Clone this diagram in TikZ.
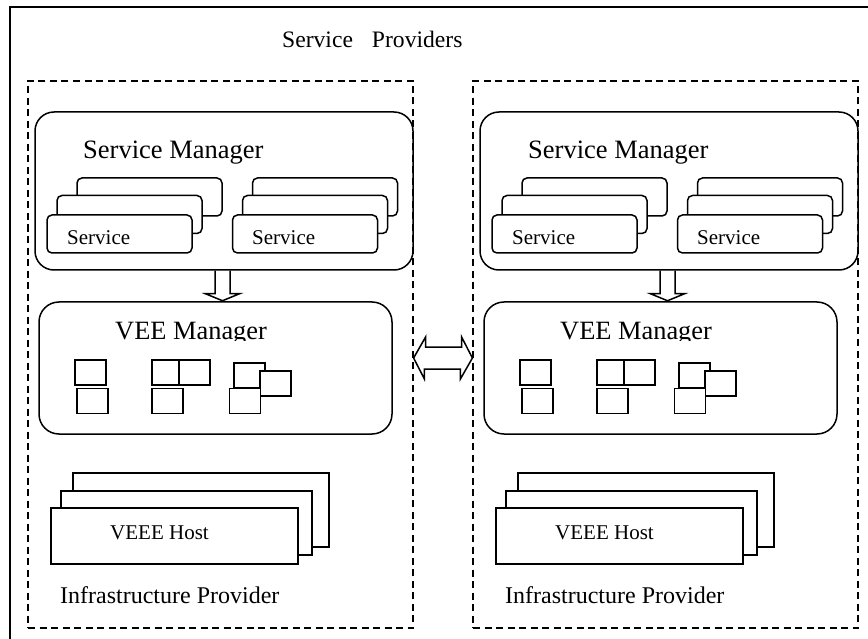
\documentclass[tikz,border=0pt]{standalone}
\usepackage{fontspec}
\setmainfont{Liberation Serif}
\usetikzlibrary{calc}
\tikzstyle{provider}=[draw,dash pattern=on 7pt off 4.5pt,line width=1.2pt,inner sep=0pt]
\tikzstyle{manager}=[draw,line width=1.5pt,rounded corners=19pt,inner sep=0pt]
\tikzstyle{svc}=[draw,fill=white,line width=1.5pt,rounded corners=5pt,minimum width=145pt,minimum height=38pt,inner sep=0pt]
\tikzstyle{vee}=[draw,fill=white,line width=1.5pt,minimum width=31pt,minimum height=25pt,inner sep=0pt]
\tikzstyle{host}=[draw,fill=white,line width=1.5pt,inner sep=0pt]
\tikzstyle{hollow}=[line width=1.5pt,line join=miter]
\tikzstyle{lbl}=[anchor=base west,inner sep=0pt]

\begin{document}
\begin{tikzpicture}[x=1pt,y=-1pt]
\useasboundingbox (0,0) rectangle (868,639);
\draw[line width=1.3pt] (10,7) rectangle (880,650);
\node[lbl,font=\fontsize{23.6}{26}\selectfont] (title) at (282,48) {Service\hspace{19pt}Providers};

% one provider on each side
\foreach \s/\dx in {L/0,R/445}{
\begin{scope}[xshift=\dx]
\node[provider,minimum width=385pt,minimum height=547pt] (p\s) at (220.5,354.5) {};
% service manager
\node[manager,minimum width=378pt,minimum height=158pt] (sm\s) at (224,191) {};
\node[lbl,font=\fontsize{26.5}{28}\selectfont] (smt\s) at (83,159) {Service Manager};
\node[svc] (sa\s) at (149.5,197) {};
\node[svc] (sb\s) at (129.5,214.5) {};
\node[svc] (sc\s) at (119.5,234) {};
\node[lbl,font=\fontsize{21}{23}\selectfont] (sct\s) at (67,245) {Service};
\node[svc] (sd\s) at (325,197) {};
\node[svc] (se\s) at (315,214.5) {};
\node[svc] (sf\s) at (305,234) {};
\node[lbl,font=\fontsize{21}{23}\selectfont] (sft\s) at (252,245) {Service};
% vee manager
\node[manager,rounded corners=20pt,minimum width=353pt,minimum height=132pt] (vm\s) at (215.5,368) {};
\draw[hollow] ($(sm\s.south)+(-9,0)$) -- ++(0,23) -- ++(-9.5,0) -- ++(17,7) -- ++(17,-7) -- ++(-9.5,0) -- ++(0,-23);
\begin{scope}
\clip (0,0) rectangle (868,340);
\node[lbl,font=\fontsize{26.4}{28}\selectfont] (vmt\s) at (115,339) {VEE Manager};
\end{scope}
\node[vee] (v1\s) at (90.5,372.5) {};
\node[vee] (v2\s) at (92.5,401) {};
\node[vee] (v3\s) at (167.5,372.5) {};
\node[vee] (v4\s) at (194.5,372.5) {};
\node[vee] (v5\s) at (167.5,401) {};
\node[vee] (v6\s) at (249.5,375.5) {};
\node[vee] (v7\s) at (275.5,383.5) {};
\node[vee] (v8\s) at (245,401) {};
% hosts
\node[host,minimum width=256pt,minimum height=74pt] (ha\s) at (201,510) {};
\node[host,minimum width=251pt,minimum height=64pt] (hb\s) at (186.5,523) {};
\node[host,minimum width=247pt,minimum height=56pt] (hc\s) at (174.5,536) {};
\node[lbl,font=\fontsize{21}{23}\selectfont] (hct\s) at (110,539) {VEEE Host};
\node[lbl,font=\fontsize{24}{26}\selectfont] (ip\s) at (60,603) {Infrastructure Provider};
\end{scope}
}

% link between the two providers
\draw[hollow] ($(pL.east)+(0,3.5)$) -- ++(12,-21) -- ++(0,10) -- ++(36,0) -- ++(0,-10) -- ($(pR.west)+(0,3.5)$) -- ++(-12,21) -- ++(0,-10) -- ++(-36,0) -- ++(0,10) -- cycle;
\end{tikzpicture}
\end{document}
